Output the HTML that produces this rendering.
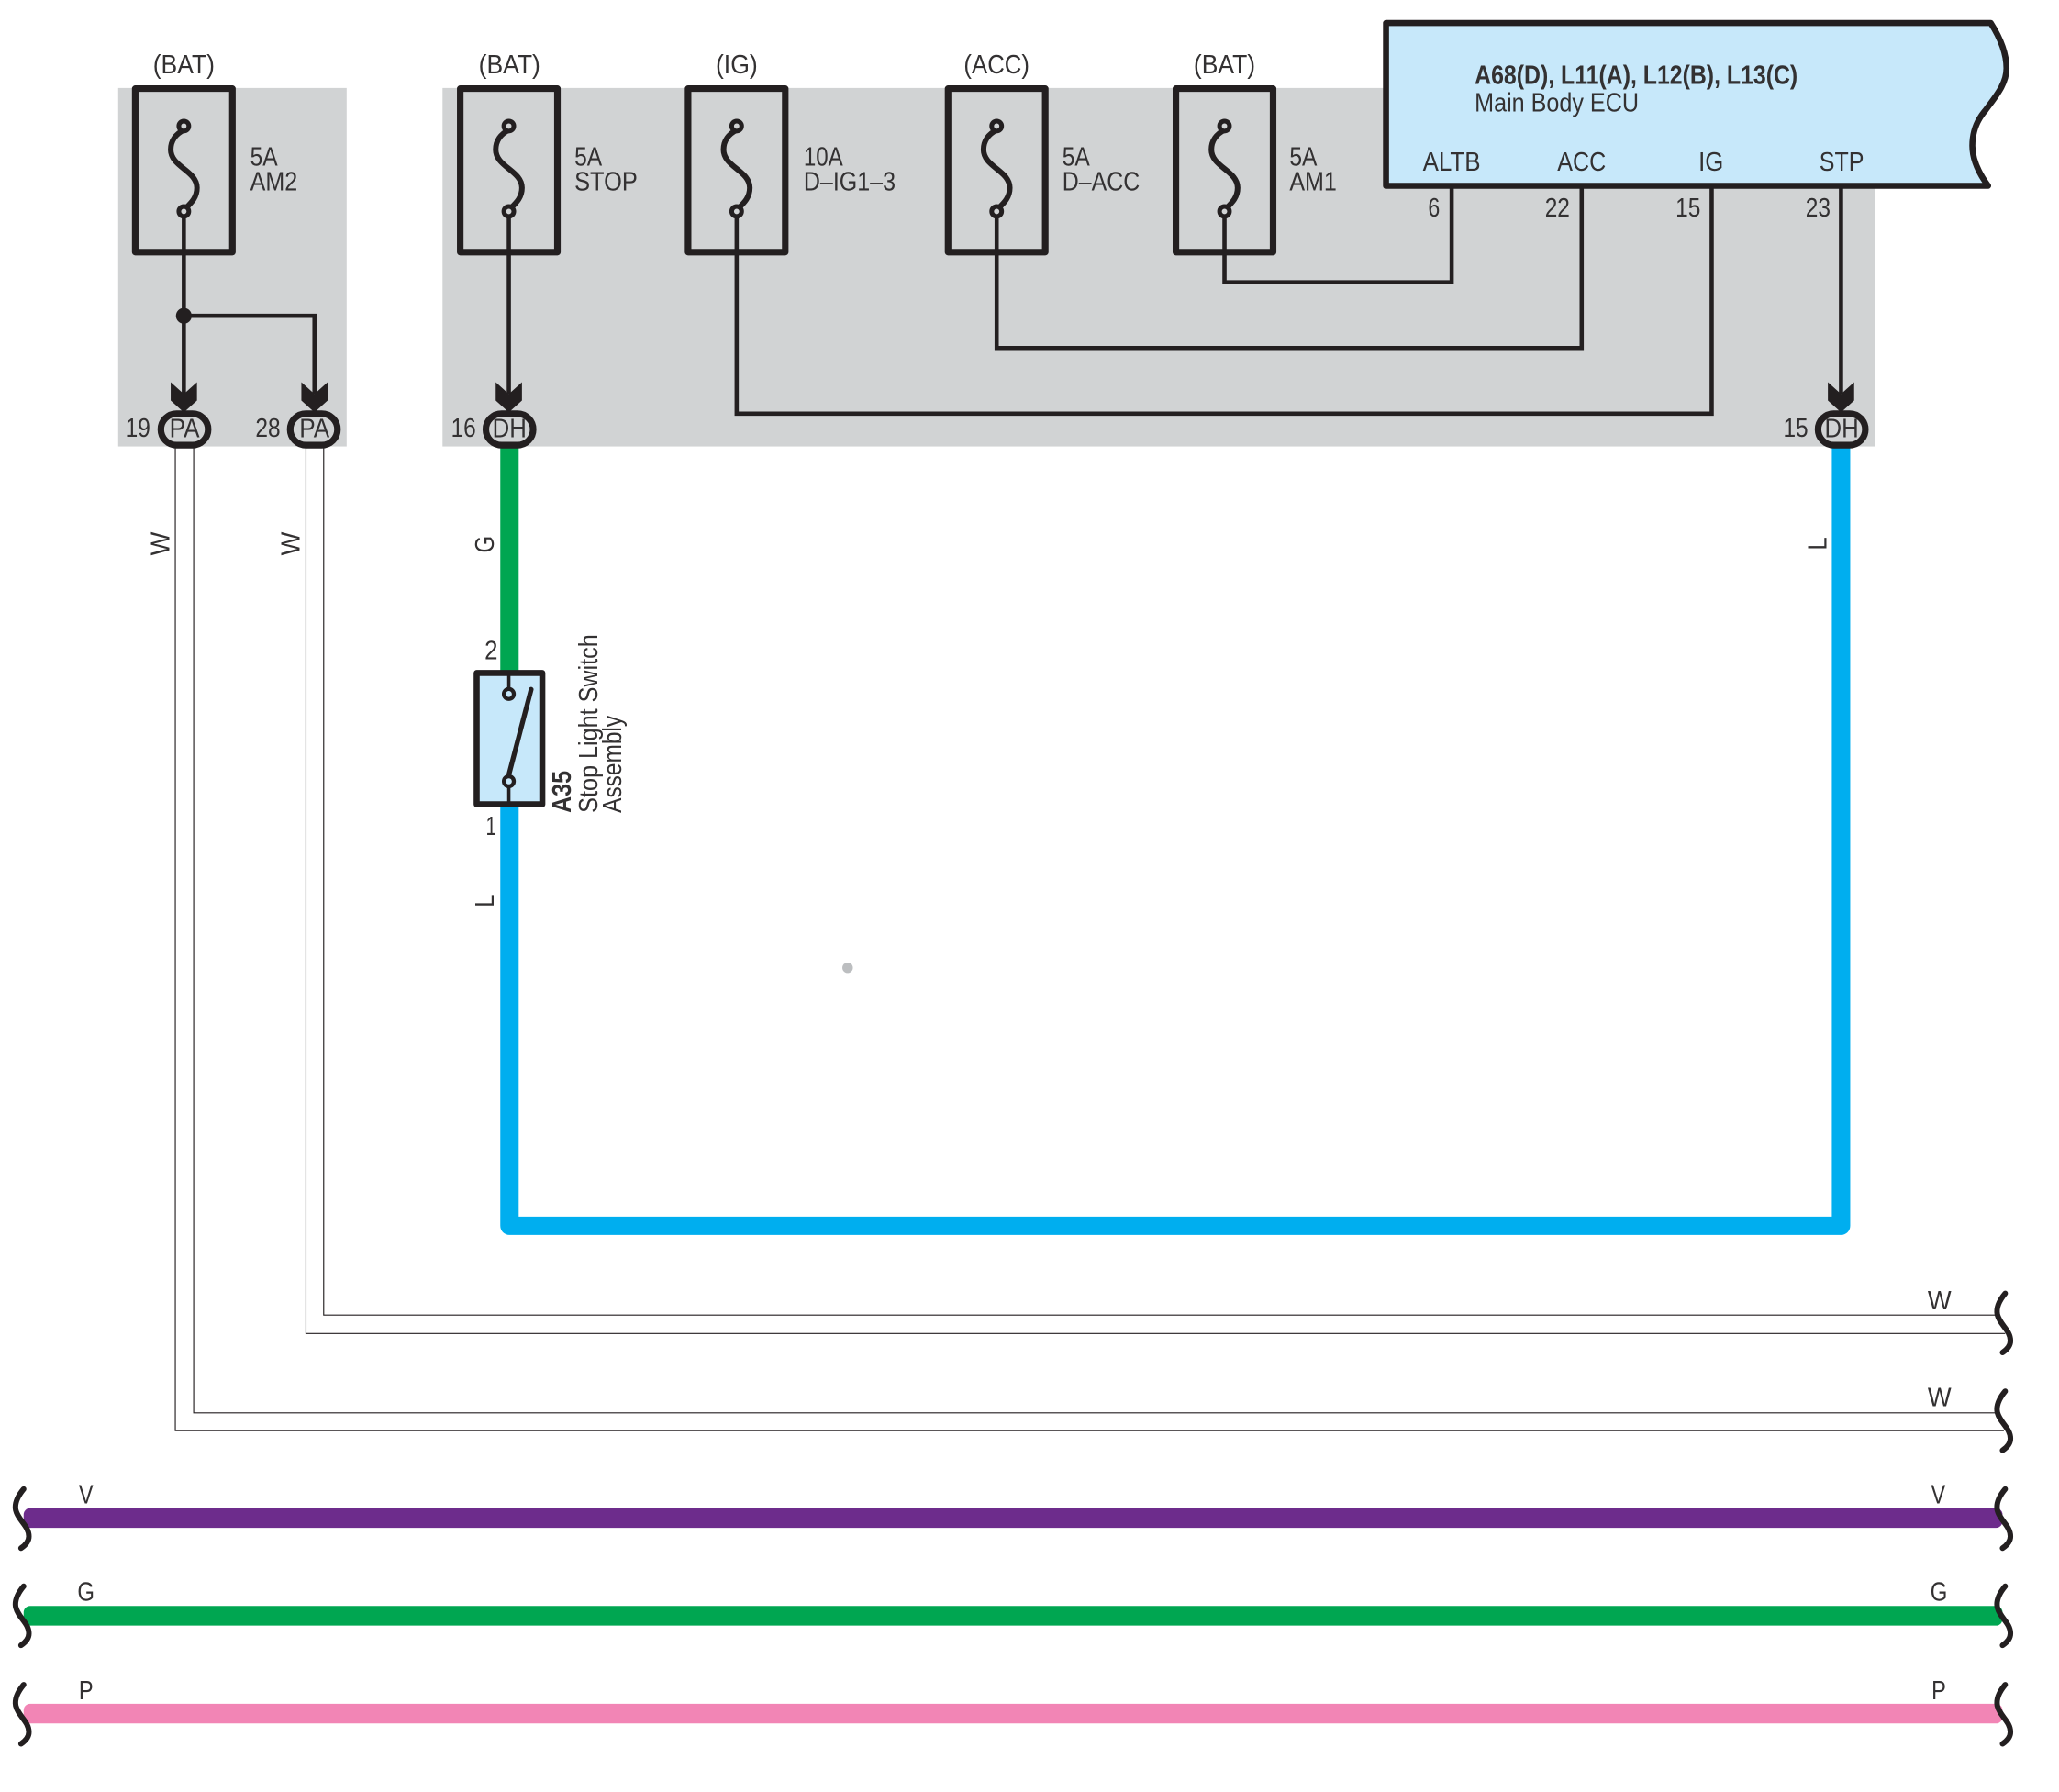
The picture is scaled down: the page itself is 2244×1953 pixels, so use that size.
<!DOCTYPE html>
<html><head><meta charset="utf-8"><style>
html,body{margin:0;padding:0;background:#fff}
svg{display:block}
text{font-family:"Liberation Sans",sans-serif;font-size:20px;fill:#333132}
</style></head><body>
<svg xmlns="http://www.w3.org/2000/svg" width="2244" height="1953" viewBox="0 0 1568 1364.700" preserveAspectRatio="none">
<defs>
<g id="fuse">
<rect x="-37" y="-124.500" width="74" height="124.500" fill="none" stroke="#231f20" stroke-width="5" stroke-linejoin="round"/>
<path d="M0-93C-6-90-10-85-10-78C-10-65 10-62 10-49C10-41 5-37 0-32" fill="none" stroke="#231f20" stroke-width="4.200"/>
<circle cx="0" cy="-96" r="3.800" fill="#d1d3d4" stroke="#231f20" stroke-width="3.500"/>
<circle cx="0" cy="-31" r="3.800" fill="#d1d3d4" stroke="#231f20" stroke-width="3.500"/>
</g>
<path id="arrow" d="M-10 0L0 9L10 0V14L0 23L-10 14Z" fill="#231f20"/>
<path id="brk" d="M6 0C1 6-1 11 0 16C2 24 10 28 10 36C10 40 7 43 4 45" fill="none" stroke="#231f20" stroke-width="4.200" stroke-linecap="round"/>
</defs>

<rect x="90" y="67" width="174" height="273" fill="#d1d3d4"/>
<rect x="337" y="67" width="1091" height="273" fill="#d1d3d4"/>

<!-- thin wires -->
<g fill="none" stroke="#231f20" stroke-width="3.200" stroke-linejoin="miter">
<path d="M140 161V300M140 240.500H239.500V300"/>
<path d="M387.500 161V300"/>
<path d="M561 161V315H1303.500V142"/>
<path d="M759 161V265H1204.500V142"/>
<path d="M932.500 161V215H1105.500V142"/>
<path d="M1402 142V300"/>
</g>
<circle cx="140" cy="240.500" r="6" fill="#231f20"/>

<!-- fuses -->
<use href="#fuse" x="140" y="192"/>
<use href="#fuse" x="387.500" y="192"/>
<use href="#fuse" x="561" y="192"/>
<use href="#fuse" x="759" y="192"/>
<use href="#fuse" x="932.500" y="192"/>

<!-- thick wires -->
<g fill="none" stroke-linejoin="round">
<path d="M388 340V512" stroke="#00a651" stroke-width="14"/>
<path d="M388 612V933.500H1402V340" stroke="#00aeef" stroke-width="14"/>
</g>
<g fill="none" stroke="#231f20" stroke-width="0.800">
<path d="M133.500 340V1089.500H1526"/>
<path d="M147.500 340V1076H1522"/>
<path d="M233 340V1015.500H1527"/>
<path d="M246.500 340V1001.500H1522"/>
</g>
<g>
<rect x="18" y="1148.500" width="1507" height="15" rx="5" fill="#6d2c8c"/>
<rect x="18" y="1223" width="1507" height="15" rx="5" fill="#00a651"/>
<rect x="18" y="1297.500" width="1507" height="15" rx="5" fill="#f285b5"/>
</g>

<!-- arrows & connectors -->
<use href="#arrow" x="140" y="291"/>
<use href="#arrow" x="239.500" y="291"/>
<use href="#arrow" x="387.500" y="291"/>
<use href="#arrow" x="1402" y="291"/>
<g fill="#d1d3d4" stroke="#231f20" stroke-width="5">
<rect x="122.500" y="315" width="36" height="24" rx="12"/>
<rect x="221" y="315" width="36" height="24" rx="12"/>
<rect x="370" y="315" width="36" height="24" rx="12"/>
<rect x="1384.500" y="315" width="36" height="24" rx="12"/>
</g>

<!-- ECU -->
<path d="M1055.500 17.500H1516C1524 30 1528 41 1528 52C1528 64 1520 73 1512 84C1505 92 1502 101 1502 111C1502 122 1507 132 1514 141.500H1055.500Z" fill="#c7e8fa" stroke="#231f20" stroke-width="4.600" stroke-linejoin="round"/>

<!-- switch -->
<rect x="363" y="512.500" width="50" height="100" fill="#c7e8fa" stroke="#231f20" stroke-width="4.600" stroke-linejoin="round"/>
<path d="M387.500 514V524M387.500 600V611" stroke="#231f20" stroke-width="2.500"/>
<path d="M387 592L404.500 525" stroke="#231f20" stroke-width="3.700" stroke-linecap="round"/>
<circle cx="387.500" cy="528.500" r="3.800" fill="#c7e8fa" stroke="#231f20" stroke-width="3"/>
<circle cx="387.500" cy="595" r="3.800" fill="#c7e8fa" stroke="#231f20" stroke-width="3"/>

<circle cx="645.500" cy="737" r="4" fill="#bcbec0"/>

<!-- breaks -->
<use href="#brk" x="1521" y="985"/>
<use href="#brk" x="1521" y="1059.500"/>
<use href="#brk" x="1521" y="1134"/>
<use href="#brk" x="1521" y="1208"/>
<use href="#brk" x="1521" y="1283"/>
<use href="#brk" x="12" y="1134"/>
<use href="#brk" x="12" y="1208"/>
<use href="#brk" x="12" y="1283"/>

<!-- labels -->
<g text-anchor="middle">
<text x="140" y="56" textLength="47" lengthAdjust="spacingAndGlyphs">(BAT)</text>
<text x="388" y="56" textLength="47" lengthAdjust="spacingAndGlyphs">(BAT)</text>
<text x="561" y="56" textLength="32" lengthAdjust="spacingAndGlyphs">(IG)</text>
<text x="759" y="56" textLength="50" lengthAdjust="spacingAndGlyphs">(ACC)</text>
<text x="932.500" y="56" textLength="47" lengthAdjust="spacingAndGlyphs">(BAT)</text>
<text x="1105.500" y="130" textLength="44" lengthAdjust="spacingAndGlyphs">ALTB</text>
<text x="1204.500" y="130" textLength="37" lengthAdjust="spacingAndGlyphs">ACC</text>
<text x="1303" y="130" textLength="19" lengthAdjust="spacingAndGlyphs">IG</text>
<text x="1402.500" y="130" textLength="34" lengthAdjust="spacingAndGlyphs">STP</text>
<text x="1092" y="165" textLength="9" lengthAdjust="spacingAndGlyphs">6</text>
<text x="1186" y="165" textLength="19" lengthAdjust="spacingAndGlyphs">22</text>
<text x="1285.500" y="165" textLength="19" lengthAdjust="spacingAndGlyphs">15</text>
<text x="1384.500" y="165" textLength="19" lengthAdjust="spacingAndGlyphs">23</text>
<text x="105" y="332.500" textLength="19" lengthAdjust="spacingAndGlyphs">19</text>
<text x="204" y="332.500" textLength="19" lengthAdjust="spacingAndGlyphs">28</text>
<text x="353" y="332.500" textLength="19" lengthAdjust="spacingAndGlyphs">16</text>
<text x="1367.500" y="332.500" textLength="19" lengthAdjust="spacingAndGlyphs">15</text>
<text x="140.500" y="333" textLength="23" lengthAdjust="spacingAndGlyphs">PA</text>
<text x="239.500" y="333" textLength="23" lengthAdjust="spacingAndGlyphs">PA</text>
<text x="388" y="333" textLength="26" lengthAdjust="spacingAndGlyphs">DH</text>
<text x="1402.500" y="333" textLength="26" lengthAdjust="spacingAndGlyphs">DH</text>
<text x="374" y="502" textLength="10" lengthAdjust="spacingAndGlyphs">2</text>
<text x="374" y="636" textLength="8" lengthAdjust="spacingAndGlyphs">1</text>
<text x="1477" y="997" textLength="18" lengthAdjust="spacingAndGlyphs">W</text>
<text x="1477" y="1071" textLength="18" lengthAdjust="spacingAndGlyphs">W</text>
<text x="1476" y="1145" textLength="11" lengthAdjust="spacingAndGlyphs">V</text>
<text x="1476.500" y="1219" textLength="13" lengthAdjust="spacingAndGlyphs">G</text>
<text x="1476.500" y="1294" textLength="11" lengthAdjust="spacingAndGlyphs">P</text>
<text x="65.500" y="1145" textLength="11" lengthAdjust="spacingAndGlyphs">V</text>
<text x="65.500" y="1219" textLength="13" lengthAdjust="spacingAndGlyphs">G</text>
<text x="65.500" y="1294" textLength="11" lengthAdjust="spacingAndGlyphs">P</text>
</g>
<g>
<text x="190.500" y="126" textLength="21" lengthAdjust="spacingAndGlyphs">5A</text>
<text x="190.500" y="145" textLength="36" lengthAdjust="spacingAndGlyphs">AM2</text>
<text x="437.500" y="126" textLength="21" lengthAdjust="spacingAndGlyphs">5A</text>
<text x="437.500" y="145" textLength="48" lengthAdjust="spacingAndGlyphs">STOP</text>
<text x="612" y="126" textLength="30" lengthAdjust="spacingAndGlyphs">10A</text>
<text x="612" y="145" textLength="70" lengthAdjust="spacingAndGlyphs">D–IG1–3</text>
<text x="809" y="126" textLength="21" lengthAdjust="spacingAndGlyphs">5A</text>
<text x="809" y="145" textLength="59" lengthAdjust="spacingAndGlyphs">D–ACC</text>
<text x="982" y="126" textLength="21" lengthAdjust="spacingAndGlyphs">5A</text>
<text x="982" y="145" textLength="36" lengthAdjust="spacingAndGlyphs">AM1</text>
<text x="1123" y="64" style="font-weight:bold" textLength="246" lengthAdjust="spacingAndGlyphs">A68(D), L11(A), L12(B), L13(C)</text>
<text x="1123" y="85" textLength="125" lengthAdjust="spacingAndGlyphs">Main Body ECU</text>
<text transform="translate(434.500 619) rotate(-90)" style="font-weight:bold" textLength="32" lengthAdjust="spacingAndGlyphs">A35</text>
<text transform="translate(455 619) rotate(-90)" textLength="136" lengthAdjust="spacingAndGlyphs">Stop Light Switch</text>
<text transform="translate(473 619) rotate(-90)" textLength="74" lengthAdjust="spacingAndGlyphs">Assembly</text>
<text transform="translate(129 423) rotate(-90)" textLength="18" lengthAdjust="spacingAndGlyphs">W</text>
<text transform="translate(228 423) rotate(-90)" textLength="18" lengthAdjust="spacingAndGlyphs">W</text>
<text transform="translate(376 421) rotate(-90)" textLength="13" lengthAdjust="spacingAndGlyphs">G</text>
<text transform="translate(376 691) rotate(-90)" textLength="10" lengthAdjust="spacingAndGlyphs">L</text>
<text transform="translate(1391 419) rotate(-90)" textLength="10" lengthAdjust="spacingAndGlyphs">L</text>
</g>
</svg>
</body></html>
